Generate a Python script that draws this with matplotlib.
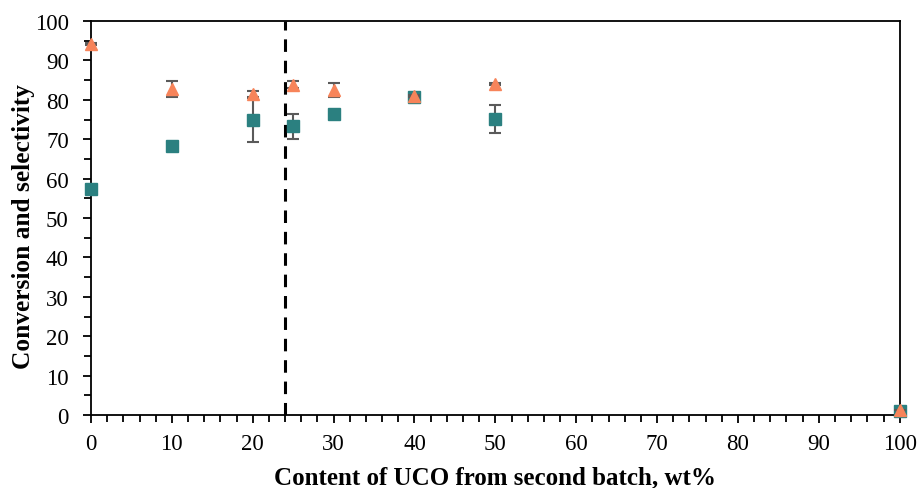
import matplotlib
matplotlib.use('Agg')
import matplotlib.pyplot as plt
from matplotlib.ticker import MultipleLocator

plt.rcParams['font.family'] = ['Liberation Serif', 'DejaVu Serif']

# UCO content (wt%)
uco = [0, 10, 20, 25, 30, 40, 50, 100]
# conversion (squares) and selectivity (triangles)
conversion = [57.4, 68.3, 74.9, 73.3, 76.4, 80.7, 75.1, 1.0]
conversion_err = [0, 0, 5.6, 3.2, 0, 0, 3.5, 0]
selectivity = [94.2, 82.8, 81.5, 83.8, 82.5, 81.0, 84.0, 1.2]
selectivity_err = [0.3, 2.0, 0.8, 0.9, 1.7, 0.3, 0.3, 0]

teal = '#2B8080'
orange = '#F7845A'

fig = plt.figure(figsize=(9.19, 4.89), dpi=100)
ax = fig.add_axes([0.099, 0.149, 0.88, 0.806])

ax.errorbar(uco, conversion, yerr=conversion_err, fmt='s', color=teal,
            markersize=8.5, ecolor='#5a5a5a', elinewidth=1.5, capsize=4, capthick=1.5,
            clip_on=False, zorder=3)
ax.errorbar(uco, selectivity, yerr=selectivity_err, fmt='^', color=orange,
            markersize=9, ecolor='#5a5a5a', elinewidth=1.5, capsize=4, capthick=1.5,
            clip_on=False, zorder=4)

ax.axvline(24, color='black', linestyle=(0, (4.1, 2.9)), linewidth=2.2, zorder=2)

ax.set_xlim(0, 100)
ax.set_ylim(0, 100)
ax.xaxis.set_major_locator(MultipleLocator(10))
ax.xaxis.set_minor_locator(MultipleLocator(2))
ax.yaxis.set_major_locator(MultipleLocator(10))
ax.yaxis.set_minor_locator(MultipleLocator(5))
ax.tick_params(which='both', direction='out', width=1.3, labelsize=16.5)
ax.tick_params(which='major', length=6)
ax.tick_params(which='minor', length=5)
ax.tick_params(axis='x', which='major', pad=7)
ax.tick_params(axis='y', which='major', pad=10)
for s in ax.spines.values():
    s.set_linewidth(1.3)

ax.set_xlabel('Content of UCO from second batch, wt%', fontsize=18, fontweight='bold', labelpad=8)
ax.set_ylabel('Conversion and selectivity', fontsize=18.3, fontweight='bold')
ax.yaxis.set_label_coords(-0.069, 0.48)

fig.savefig('out.png', dpi=100)
